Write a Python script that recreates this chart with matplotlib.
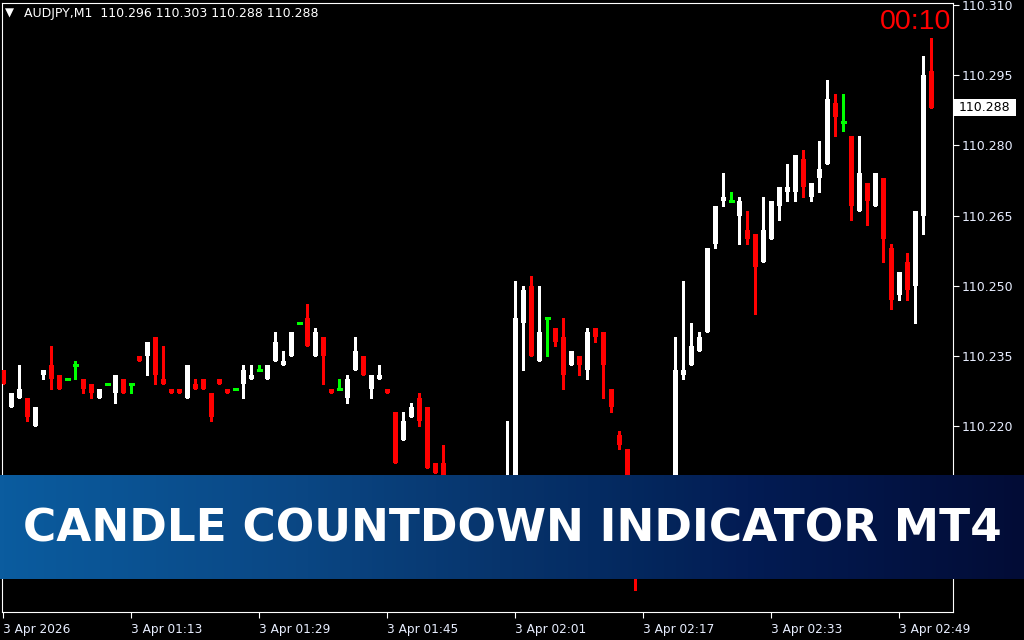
import matplotlib
matplotlib.use('Agg')
import matplotlib.pyplot as plt
import numpy as np
from matplotlib.colors import LinearSegmentedColormap
from matplotlib.patches import Rectangle

# ---------------- data ----------------
header = "AUDJPY,M1  110.296 110.303 110.288 110.288"
countdown = "00:10"
banner_text = "CANDLE COUNTDOWN INDICATOR MT4"
current_price = 110.288

opens = [110.232, 110.224, 110.226, 110.226, 110.220, 110.231, 110.233, 110.231, 110.230, 110.233,
         110.230, 110.229, 110.226, 110.229, 110.227, 110.230, 110.229, 110.235, 110.235, 110.239,
         110.230, 110.228, 110.228, 110.226, 110.229, 110.230, 110.227, 110.230, 110.228, 110.228,
         110.229, 110.230, 110.232, 110.230, 110.234, 110.233, 110.235, 110.242, 110.243, 110.235,
         110.239, 110.228, 110.228, 110.226, 110.232, 110.235, 110.228, 110.230, 110.228, 110.223,
         110.217, 110.222, 110.226, 110.224, 110.212, 110.212, 110.206, 110.200, 110.203, 110.196,
         110.192, 110.198, 110.195, 110.201, 110.208, 110.242, 110.250, 110.234, 110.243, 110.241,
         110.239, 110.233, 110.235, 110.232, 110.241, 110.240, 110.228, 110.218, 110.215, 110.206,
         110.196, 110.202, 110.198, 110.204, 110.208, 110.231, 110.233, 110.236, 110.240, 110.259,
         110.268, 110.268, 110.265, 110.262, 110.261, 110.255, 110.260, 110.267, 110.270, 110.270,
         110.277, 110.269, 110.273, 110.276, 110.289, 110.285, 110.282, 110.266, 110.272, 110.267,
         110.273, 110.258, 110.248, 110.255, 110.250, 110.265, 110.296]

highs = [110.232, 110.227, 110.233, 110.226, 110.224, 110.232, 110.237, 110.231, 110.230, 110.234,
         110.230, 110.229, 110.228, 110.229, 110.231, 110.230, 110.229, 110.235, 110.238, 110.239,
         110.237, 110.228, 110.228, 110.233, 110.230, 110.230, 110.227, 110.230, 110.228, 110.228,
         110.233, 110.233, 110.233, 110.233, 110.240, 110.236, 110.240, 110.242, 110.246, 110.241,
         110.239, 110.228, 110.230, 110.231, 110.239, 110.235, 110.231, 110.233, 110.228, 110.223,
         110.223, 110.225, 110.227, 110.224, 110.212, 110.216, 110.207, 110.204, 110.204, 110.197,
         110.199, 110.199, 110.202, 110.221, 110.251, 110.250, 110.252, 110.250, 110.243, 110.241,
         110.243, 110.236, 110.235, 110.241, 110.241, 110.240, 110.228, 110.219, 110.215, 110.207,
         110.203, 110.203, 110.205, 110.209, 110.239, 110.251, 110.242, 110.240, 110.258, 110.267,
         110.274, 110.270, 110.269, 110.266, 110.261, 110.269, 110.268, 110.271, 110.276, 110.278,
         110.279, 110.272, 110.281, 110.294, 110.291, 110.291, 110.282, 110.282, 110.272, 110.274,
         110.273, 110.259, 110.253, 110.257, 110.266, 110.299, 110.303]

lows = [110.229, 110.224, 110.226, 110.221, 110.220, 110.230, 110.228, 110.228, 110.230, 110.230,
        110.227, 110.226, 110.226, 110.229, 110.225, 110.227, 110.227, 110.234, 110.231, 110.229,
        110.229, 110.227, 110.227, 110.226, 110.228, 110.228, 110.221, 110.229, 110.227, 110.228,
        110.226, 110.230, 110.232, 110.230, 110.234, 110.233, 110.235, 110.242, 110.237, 110.235,
        110.229, 110.227, 110.228, 110.225, 110.232, 110.231, 110.226, 110.230, 110.227, 110.212,
        110.217, 110.222, 110.220, 110.211, 110.210, 110.205, 110.198, 110.198, 110.194, 110.190,
        110.191, 110.194, 110.193, 110.200, 110.207, 110.232, 110.235, 110.234, 110.235, 110.237,
        110.228, 110.233, 110.231, 110.230, 110.238, 110.226, 110.223, 110.215, 110.205, 110.185,
        110.195, 110.197, 110.197, 110.203, 110.207, 110.230, 110.233, 110.236, 110.240, 110.258,
        110.267, 110.268, 110.259, 110.259, 110.244, 110.255, 110.260, 110.264, 110.268, 110.268,
        110.269, 110.268, 110.270, 110.276, 110.282, 110.283, 110.264, 110.266, 110.263, 110.267,
        110.255, 110.245, 110.247, 110.247, 110.242, 110.261, 110.288]

closes = [110.229, 110.227, 110.228, 110.222, 110.224, 110.232, 110.230, 110.228, 110.230, 110.233,
          110.228, 110.227, 110.228, 110.229, 110.231, 110.227, 110.229, 110.234, 110.238, 110.231,
          110.229, 110.227, 110.227, 110.233, 110.228, 110.228, 110.222, 110.229, 110.227, 110.228,
          110.232, 110.231, 110.232, 110.233, 110.238, 110.234, 110.240, 110.242, 110.237, 110.240,
          110.235, 110.227, 110.228, 110.230, 110.236, 110.231, 110.231, 110.231, 110.227, 110.212,
          110.221, 110.224, 110.221, 110.211, 110.210, 110.206, 110.200, 110.203, 110.196, 110.192,
          110.198, 110.195, 110.201, 110.208, 110.243, 110.249, 110.235, 110.240, 110.243, 110.238,
          110.231, 110.236, 110.233, 110.240, 110.239, 110.233, 110.224, 110.216, 110.206, 110.196,
          110.202, 110.198, 110.204, 110.208, 110.232, 110.232, 110.237, 110.239, 110.258, 110.267,
          110.269, 110.268, 110.268, 110.260, 110.254, 110.262, 110.268, 110.271, 110.271, 110.278,
          110.271, 110.272, 110.275, 110.290, 110.286, 110.285, 110.267, 110.274, 110.268, 110.274,
          110.260, 110.247, 110.253, 110.249, 110.266, 110.295, 110.288]

time_tick_index = [0, 16, 32, 48, 64, 80, 96, 112]
time_tick_labels = ["3 Apr 2026", "3 Apr 01:13", "3 Apr 01:29", "3 Apr 01:45",
                    "3 Apr 02:01", "3 Apr 02:17", "3 Apr 02:33", "3 Apr 02:49"]
price_ticks = [110.190, 110.205, 110.220, 110.235, 110.250, 110.265, 110.280, 110.295, 110.310]

# ---------------- figure ----------------
W, H = 1024, 640
fig = plt.figure(figsize=(W / 100, H / 100), dpi=100, facecolor='black')
ax = fig.add_axes([2 / W, 28 / H, 951 / W, 609 / H], facecolor='black')
ax.set_xlim(-0.125, 118.75)
ax.set_ylim(110.18024, 110.31043)

o = np.array(opens); h = np.array(highs); l = np.array(lows); c = np.array(closes)
x = np.arange(len(o))
up = c > o
down = c < o
doji = c == o
colors = np.where(up, '#ffffff', np.where(down, '#ff0000', '#00ff00'))

ax.vlines(x, l, h, colors=list(colors), linewidth=1.0, antialiased=False, zorder=2)
body_mask = ~doji
ax.bar(x[body_mask], np.abs(c - o)[body_mask], bottom=np.minimum(o, c)[body_mask],
       width=0.625, color=list(colors[body_mask]), linewidth=0, antialiased=False, zorder=3)
ax.hlines(o[doji], x[doji] - 0.3125, x[doji] + 0.3125, colors='#00ff00',
          linewidth=1.0, antialiased=False, zorder=3)

for s in ax.spines.values():
    s.set_color('white')
    s.set_linewidth(0.8)

ax.yaxis.tick_right()
ax.set_yticks(price_ticks)
ax.set_yticklabels([f"{p:.3f}" for p in price_ticks])
ax.tick_params(axis='y', direction='out', length=4, width=0.8, color='white',
               labelcolor='#e8eeff', labelsize=9, pad=2)
ax.set_xticks(time_tick_index)
ax.set_xticklabels(time_tick_labels, ha='left')
ax.tick_params(axis='x', direction='out', length=4, width=0.8, color='white',
               labelcolor='#e8eeff', labelsize=8.7, pad=4)

# header
fig.text(5 / W, 1 - 13 / H, "\u25BC", color='white', fontsize=8.5, va='center', ha='left')
fig.text(24 / W, 1 - 13 / H, header, color='white', fontsize=9, va='center', ha='left')

# countdown
fig.text(951 / W, 1 - 29 / H, countdown, color='#ff0000', fontsize=20.5,
         family='Liberation Sans', ha='right', va='baseline')

# current price box
fig.add_artist(Rectangle((954 / W, 1 - 116 / H), 62 / W, 17 / H, transform=fig.transFigure,
                         facecolor='white', edgecolor='none', zorder=4))
fig.text(959 / W, 1 - 107.5 / H, f"{current_price:.3f}", color='black', fontsize=9,
         va='center', ha='left', zorder=5)

# banner
stops = [(0.0, (11/255, 92/255, 159/255)), (0.30, (10/255, 70/255, 131/255)),
         (0.49, (7/255, 52/255, 108/255)), (0.66, (3/255, 36/255, 90/255)),
         (0.73, (3/255, 28/255, 84/255)), (1.0, (2/255, 12/255, 54/255))]
cmap = LinearSegmentedColormap.from_list('banner', stops)
bax = fig.add_axes([0, (H - 579) / H, 1, 104 / H], zorder=10)
bax.imshow(np.linspace(0, 1, 512)[None, :], aspect='auto', cmap=cmap, extent=[0, 1, 0, 1])
bax.set_xlim(0, 1); bax.set_ylim(0, 1)
bax.axis('off')
bax.text(512.5 / W, (579 - 541.7) / 104, banner_text, color='white', fontsize=32.7,
         fontweight='bold', family='DejaVu Sans', ha='center', va='baseline',
         transform=bax.transAxes)

fig.savefig('out.png', dpi=100, facecolor='black')
